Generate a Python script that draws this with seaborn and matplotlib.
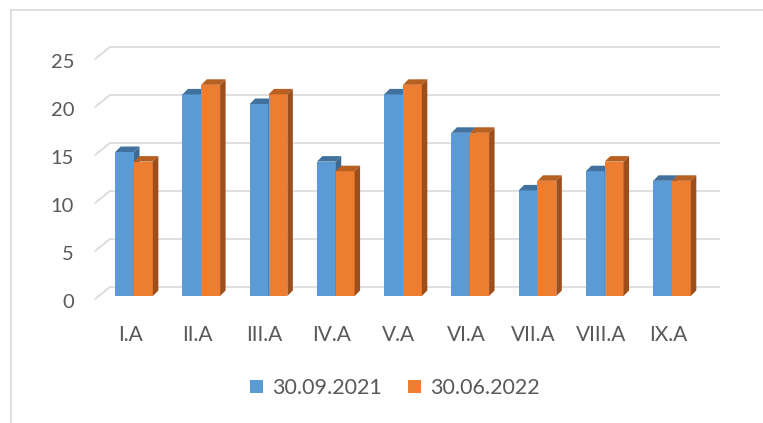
import matplotlib
matplotlib.use("Agg")
import matplotlib.pyplot as plt
import matplotlib.transforms as mtransforms
from matplotlib.lines import Line2D
from matplotlib.patches import Polygon, Patch
import pandas as pd
import seaborn as sns

classes = ["I.A", "II.A", "III.A", "IV.A", "V.A", "VI.A", "VII.A", "VIII.A", "IX.A"]
dates = ["30.09.2021", "30.06.2022"]
counts_2021 = [15, 21, 20, 14, 21, 17, 11, 13, 12]
counts_2022 = [14, 22, 21, 13, 22, 17, 12, 14, 12]
y_ticks = [0, 5, 10, 15, 20, 25]

front_colors = ["#5B9BD5", "#ED7D31"]
top_colors = ["#41719C", "#B85F22"]
side_colors = ["#3C6A94", "#9C4E1B"]
grid_color = "#D9D9D9"
text_color = "#595959"

df = pd.DataFrame({
    "klass": classes * 2,
    "date": [dates[0]] * len(classes) + [dates[1]] * len(classes),
    "count": counts_2021 + counts_2022,
})

sns.set_style("white")
plt.rcParams["font.family"] = ["Lato", "DejaVu Sans"]

W, H, DPI = 763, 423, 100
fig = plt.figure(figsize=(W / DPI, H / DPI), dpi=DPI)

# axes placed in pixels: zero line at y=296, 25 at y=56, categories 100..705
ax_l, ax_r, ax_b, ax_t = 100.4, 705.6, 296, 56
ax = fig.add_axes([ax_l / W, (H - ax_b) / H, (ax_r - ax_l) / W, (ax_b - ax_t) / H])

sns.barplot(data=df, x="klass", y="count", hue="date", hue_order=dates,
            palette=front_colors, saturation=1, width=0.56, gap=0,
            legend=False, ax=ax, edgecolor="none")

ax.set_xlim(-0.5, len(classes) - 0.5)
ax.set_ylim(0, 25)

px_x = (ax_r - ax_l) / len(classes)  # pixels per category
px_y = (ax_b - ax_t) / 25.0          # pixels per unit

# back wall gridlines with short diagonals to the front
gx_front, gx_back, gx_end = 95, 110, 720
fy_off, by_off = -3, 9   # pixel offsets of front / back plane vs bars
def xd(px):
    return -0.5 + (px - ax_l) / px_x
for v in y_ticks:
    yf = v + fy_off / px_y
    yb = v + by_off / px_y
    ax.plot([xd(gx_back), xd(gx_end)], [yb, yb], color=grid_color, lw=1.2,
            zorder=0, clip_on=False, solid_capstyle="butt")
    ax.plot([xd(gx_front), xd(gx_back)], [yf, yb], color=grid_color, lw=1.2,
            zorder=0, clip_on=False)

# pseudo 3d: top and side faces for each bar
ddx = 5.5 / px_x
ddy = 5.5 / px_y
n = len(classes)
for i, p in enumerate(ax.patches[:2 * n]):
    s = i // n
    z = 2 + s
    p.set_zorder(z)
    x0 = p.get_x()
    x1 = x0 + p.get_width()
    h = p.get_height()
    top = Polygon([(x0, h), (x1, h), (x1 + ddx, h + ddy), (x0 + ddx, h + ddy)],
                  closed=True, facecolor=top_colors[s], edgecolor="none", zorder=z)
    side = Polygon([(x1, 0), (x1, h), (x1 + ddx, h + ddy), (x1 + ddx, ddy)],
                   closed=True, facecolor=side_colors[s], edgecolor="none", zorder=z)
    ax.add_patch(top)
    ax.add_patch(side)

ax.set_yticks(y_ticks)
ax.set_yticklabels([str(v) for v in y_ticks])
ax.set_xlabel("")
ax.set_ylabel("")
for sp in ax.spines.values():
    sp.set_visible(False)
ax.tick_params(axis="y", length=0, pad=19, labelsize=14.5, labelcolor=text_color)
ax.tick_params(axis="x", length=0, pad=21, labelsize=15, labelcolor=text_color)
for lab in ax.get_yticklabels():
    lab.set_transform(lab.get_transform() + mtransforms.ScaledTranslation(0, -5 / DPI, fig.dpi_scale_trans))
for lab in ax.get_xticklabels():
    lab.set_transform(lab.get_transform() + mtransforms.ScaledTranslation(-4 / DPI, 0, fig.dpi_scale_trans))

handles = [Patch(facecolor=c, edgecolor="none") for c in front_colors]
fig.legend(handles, dates, loc="center", bbox_to_anchor=(395 / W, 1 - 388 / H),
           ncol=2, frameon=False, fontsize=15.5, labelcolor=text_color,
           handlelength=0.6, handleheight=0.6, handletextpad=0.45, columnspacing=1.2)

# chart area border (left and top only visible)
fig.add_artist(Line2D([11 / W, 11 / W], [0, 1 - 10 / H], transform=fig.transFigure,
                      color=grid_color, lw=1.2))
fig.add_artist(Line2D([11 / W, 1], [1 - 10 / H, 1 - 10 / H], transform=fig.transFigure,
                      color=grid_color, lw=1.2))

fig.savefig("out.png", dpi=DPI)
